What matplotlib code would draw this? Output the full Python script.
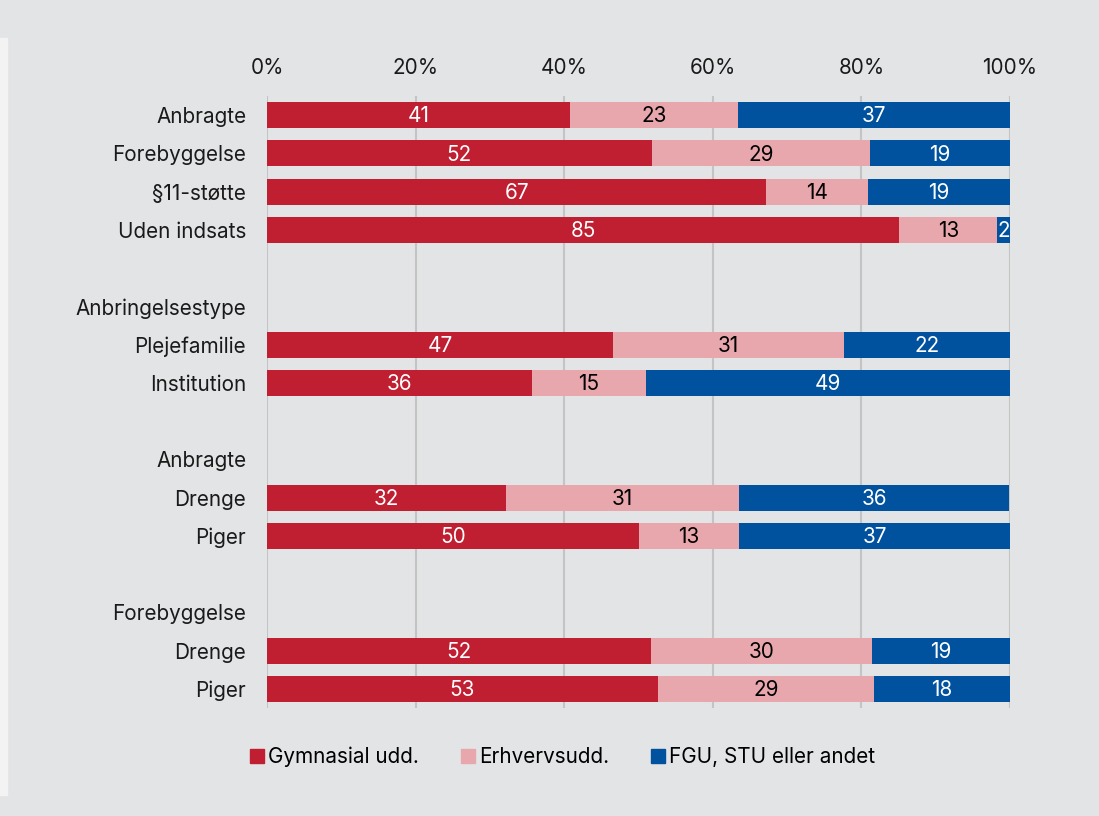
import numpy as np
import matplotlib.pyplot as plt
from matplotlib.patches import Patch, Rectangle

# -------------------- data --------------------
row_labels = ['Anbragte', 'Forebyggelse', '§11-støtte', 'Uden indsats', '',
              'Anbringelsestype', 'Plejefamilie', 'Institution', '',
              'Anbragte', 'Drenge', 'Piger', '',
              'Forebyggelse', 'Drenge', 'Piger']
# rows that carry a bar (index into row_labels)
bar_rows = [0, 1, 2, 3, 6, 7, 10, 11, 14, 15]

gymnasial = [40.8, 51.8, 67.2, 85.1, 46.6, 35.7, 32.2, 50.1, 51.7, 52.6]
erhverv   = [22.6, 29.4, 13.7, 13.2, 31.1, 15.3, 31.3, 13.4, 29.7, 29.1]
fgu       = [36.6, 18.8, 19.1,  1.7, 22.3, 49.0, 36.4, 36.6, 18.6, 18.3]

series_names = ['Gymnasial udd.', 'Erhvervsudd.', 'FGU, STU eller andet']
colors = ['#c01e31', '#e8a7ad', '#00529e']
text_colors = ['white', 'black', 'white']

bg = '#e3e4e6'
fs = 14.9

# -------------------- plot --------------------
plt.rcParams['font.family'] = ['Inter', 'DejaVu Sans']
plt.rcParams['font.size'] = fs

fig = plt.figure(figsize=(10.99, 8.16), dpi=100, facecolor=bg)
# thin pale strip on the left edge
fig.patches.append(Rectangle((0, 1 - 795/816), 7/1099, (795 - 38)/816,
                             transform=fig.transFigure, color='#f3f3f4', zorder=0))

ax = fig.add_axes([267/1099, 1 - 708/816, (1010 - 267)/1099, (708 - 96)/816])
ax.set_facecolor(bg)

y = np.array(bar_rows)
left = np.zeros(len(bar_rows))
for vals, c, tc, name in zip([gymnasial, erhverv, fgu], colors, text_colors, series_names):
    vals = np.array(vals)
    ax.barh(y, vals, left=left, height=0.68, color=c, label=name, zorder=2)
    for yi, l, v in zip(y, left, vals):
        ax.text(l + v/2, yi + 0.03, f'{v:.0f}', ha='center', va='center',
                color=tc, fontsize=fs, zorder=3)
    left = left + vals

ax.set_xlim(0, 100)
ax.set_ylim(15.5, -0.5)
ax.set_xticks(np.arange(0, 101, 20))
ax.set_xticklabels([f'{t}%' for t in range(0, 101, 20)])
ax.xaxis.tick_top()
ax.set_yticks(range(len(row_labels)))
ax.set_yticklabels(row_labels)
ax.tick_params(axis='both', length=0, colors='#1a1a1a')
ax.tick_params(axis='x', pad=13)
ax.tick_params(axis='y', pad=15)
ax.grid(axis='x', color='#c4c4c4', linewidth=1.5, zorder=0)
ax.set_axisbelow(True)
for s in ax.spines.values():
    s.set_visible(False)

handles = [Patch(color=c) for c in colors]
fig.legend(handles, series_names, loc='center', bbox_to_anchor=(0.512, 1 - 757/816),
           ncol=3, frameon=False, handlelength=0.7, handleheight=0.7,
           handletextpad=0.2, columnspacing=2.0, fontsize=fs)

plt.savefig('out.png', dpi=100, facecolor=bg)
